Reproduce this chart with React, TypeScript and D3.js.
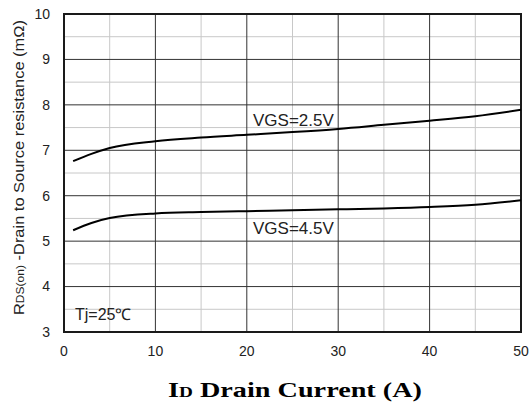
import React from "react";
import * as d3 from "d3";

const xTicks = [0, 10, 20, 30, 40, 50];
const yTicks = [3, 4, 5, 6, 7, 8, 9, 10];
const xMinor = [5, 15, 25, 35, 45];
const yMinor = [3.5, 4.5, 5.5, 6.5, 7.5, 8.5, 9.5];

const current = [1, 3, 5, 10, 15, 20, 25, 30, 35, 40, 45, 50];
const rdsVgs25 = [6.76, 6.92, 7.05, 7.2, 7.28, 7.34, 7.4, 7.47, 7.56, 7.65, 7.75, 7.89];
const rdsVgs45 = [5.24, 5.4, 5.51, 5.61, 5.64, 5.66, 5.68, 5.7, 5.72, 5.75, 5.8, 5.9];

const W = 529;
const H = 405;
const L = 64, R = 521, T = 14, B = 332;

export default function App() {
  const x = d3.scaleLinear().domain([0, 50]).range([L, R]);
  const y = d3.scaleLinear().domain([3, 10]).range([B, T]);
  const line = d3
    .line<[number, number]>()
    .x((d) => x(d[0]))
    .y((d) => y(d[1]))
    .curve(d3.curveMonotoneX);
  const s25 = current.map((c, i) => [c, rdsVgs25[i]] as [number, number]);
  const s45 = current.map((c, i) => [c, rdsVgs45[i]] as [number, number]);
  const font = "'Liberation Sans', Arial, sans-serif";

  return (
    <svg
      width={W}
      height={H}
      style={{ position: "absolute", left: 0, top: 0, background: "#fff" }}
    >
      <rect x={0} y={0} width={W} height={H} fill="#fff" />
      {xMinor.map((v) => (
        <line key={"xm" + v} x1={x(v)} x2={x(v)} y1={T} y2={B} stroke="#c8c8c8" strokeWidth={1} />
      ))}
      {yMinor.map((v) => (
        <line key={"ym" + v} x1={L} x2={R} y1={y(v)} y2={y(v)} stroke="#c8c8c8" strokeWidth={1} />
      ))}
      {xTicks.slice(1, -1).map((v) => (
        <line key={"xM" + v} x1={x(v)} x2={x(v)} y1={T} y2={B} stroke="#333" strokeWidth={1} />
      ))}
      {yTicks.slice(1, -1).map((v) => (
        <line key={"yM" + v} x1={L} x2={R} y1={y(v)} y2={y(v)} stroke="#333" strokeWidth={1} />
      ))}
      <rect x={L} y={T} width={R - L} height={B - T} fill="none" stroke="#1a1a1a" strokeWidth={2} />

      <path d={line(s25) || ""} fill="none" stroke="#000" strokeWidth={2} />
      <path d={line(s45) || ""} fill="none" stroke="#000" strokeWidth={2} />

      <g fontFamily={font} fontSize={14} fill="#222">
        {yTicks.map((v) => (
          <text key={"yt" + v} x={50} y={y(v)} dy="0.35em" textAnchor="end">
            {v}
          </text>
        ))}
        {xTicks.map((v) => (
          <text key={"xt" + v} x={x(v)} y={356} textAnchor="middle">
            {v}
          </text>
        ))}
      </g>

      <g fontFamily={font} fill="#222">
        <text x={253} y={126} fontSize={17}>VGS=2.5V</text>
        <text x={253} y={234} fontSize={17}>VGS=4.5V</text>
        <text x={75} y={320} fontSize={16}>Tj=25℃</text>
      </g>

      <text
        transform="translate(24,315) rotate(-90)"
        fontFamily={font}
        fontSize={15}
        fill="#222"
        textLength={295}
        lengthAdjust="spacingAndGlyphs"
      >
        R<tspan fontSize={11}>DS(on)</tspan> -Drain to Source resistance (mΩ)
      </text>

      <text
        x={168}
        y={397}
        fontFamily="'Liberation Serif', 'Times New Roman', serif"
        fontWeight="bold"
        fontSize={22}
        fill="#000"
        textLength={254}
        lengthAdjust="spacingAndGlyphs"
      >
        I<tspan fontSize={15}>D</tspan> Drain Current (A)
      </text>
    </svg>
  );
}
